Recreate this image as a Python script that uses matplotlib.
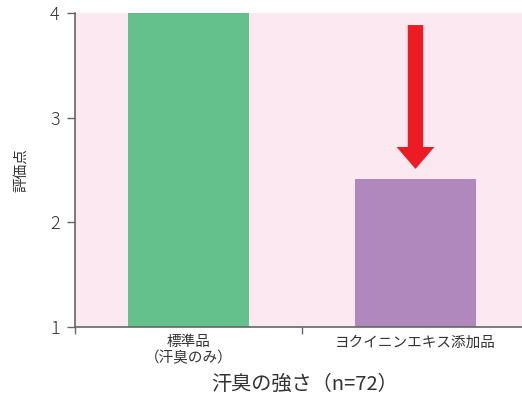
import matplotlib.pyplot as plt
from matplotlib.patches import FancyArrow

plt.rcParams['font.family'] = ['Noto Sans CJK JP', 'DejaVu Sans']

# data
categories = ['標準品\n（汗臭のみ）', 'ヨクイニンエキス添加品']
scores = [4.0, 2.41]
bar_colors = ['#64c18c', '#b088bd']
y_ticks = [1, 2, 3, 4]

fig = plt.figure(figsize=(5.22, 4.03), dpi=100)
# axes spans px 75..529 horizontally (right edge cut off), 13..327 vertically
ax = fig.add_axes([75 / 522, (403 - 327) / 403, 454 / 522, 314 / 403])
ax.set_facecolor('#fce8f0')

x = range(len(categories))
ax.bar(x, [s - 1 for s in scores], bottom=1, width=0.533,
       color=bar_colors, edgecolor='none', zorder=2)

ax.set_xlim(-0.5, 1.5)
ax.set_ylim(1, 4)

# red arrow above second bar
arrow = FancyArrow(1.0, 3.885, 0, -1.375, width=0.068, head_width=0.167,
                   head_length=0.21, length_includes_head=True,
                   color='#ed1c24', linewidth=0, zorder=3)
ax.add_patch(arrow)

for side in ['top', 'right']:
    ax.spines[side].set_visible(False)
for side in ['left', 'bottom']:
    ax.spines[side].set_color('#666666')
    ax.spines[side].set_linewidth(1.2)

ax.set_yticks(y_ticks)
ax.set_yticklabels([str(t) for t in y_ticks], fontsize=13, color='#333333',
                   fontweight='light')
ax.tick_params(axis='y', length=6, width=1, color='#666666', pad=5)

ax.set_xticks([-0.5, 0.5])
ax.set_xticklabels([])
ax.set_xticks(list(x), minor=True)
ax.set_xticklabels(categories, minor=True, fontsize=10.5, color='#333333',
                   linespacing=1.15)
ax.tick_params(axis='x', which='major', length=5, width=1, color='#666666')
ax.tick_params(axis='x', which='minor', length=0, pad=6)

ax.set_ylabel('評価点', fontsize=10.5, color='#333333', labelpad=16)
fig.text(305 / 522, 1 - 384 / 403, '汗臭の強さ（n=72）', fontsize=14.5,
         color='#333333', ha='center', va='center')

fig.savefig('out.png', dpi=100)
